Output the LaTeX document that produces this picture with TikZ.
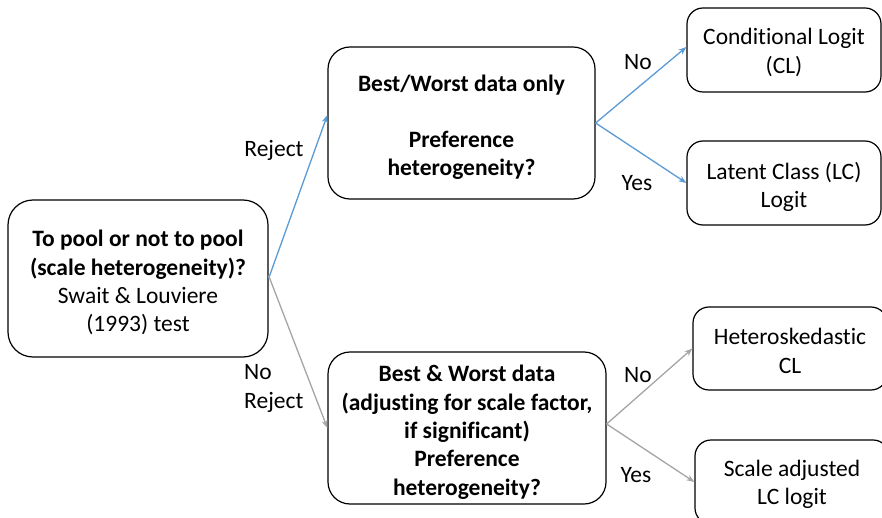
\documentclass[tikz,border=0pt]{standalone}
\usepackage{fontspec}
\setmainfont{Carlito}[Ligatures=CommonOff]
\usetikzlibrary{arrows.meta}
\definecolor{ablue}{HTML}{5B9BD5}
\definecolor{agray}{HTML}{A5A5A5}
\newcommand{\txtsize}{\fontsize{23.5}{28.3}\selectfont}
\newcommand{\dn}{\rule{0pt}{25pt}}
\newcommand{\dns}{\rule{0pt}{21pt}}
\tikzset{
  box/.style={draw=black, line width=1.2pt, rounded corners=#1, align=center, inner sep=0pt,
    font=\txtsize},
  box/.default=16pt,
  lbl/.style={font=\txtsize, inner sep=0pt},
  conn/.style={line width=1.3pt, -{Stealth[length=8pt,width=6pt]}},
  bluec/.style={conn, draw=ablue, fill=ablue},
  grayc/.style={conn, draw=agray, fill=agray},
}
\begin{document}
\begin{tikzpicture}[x=1pt,y=-1pt]
\useasboundingbox (0,0) rectangle (882,518);
\clip (0,0) rectangle (882,518);
\node[box=25pt, minimum width=260pt, minimum height=157pt] (pool) at (138,278.5)
  {\dn\textbf{To pool or not to pool}\\\textbf{(scale heterogeneity)?}\\Swait \& Louviere\\(1993) test};
\node[box=22pt, minimum width=267pt, minimum height=152pt, font=\txtsize\bfseries] (bw) at (461.5,123)
  {\dn Best/Worst data only\\~\\Preference\\heterogeneity?};
\node[box=22pt, minimum width=278pt, minimum height=152pt, font=\txtsize\bfseries] (bnw) at (467,428)
  {\dn Best \& Worst data\\(adjusting for scale factor,\\if significant)\\Preference\\heterogeneity?};
\node[box, minimum width=194pt, minimum height=84pt] (cl) at (784,50) {\dns Conditional Logit\\(CL)};
\node[box, minimum width=194pt, minimum height=84pt] (lc) at (784,183) {\dn Latent Class (LC)\\Logit};
\node[box, minimum width=194pt, minimum height=83pt] (het) at (790,348.5) {\dns Heteroskedastic\\CL};
\node[box, minimum width=194pt, minimum height=84pt] (sc) at (792,482) {\dns Scale adjusted\\LC logit};

\draw[bluec] (pool.east) -- (bw.west |- 0,115);
\draw[grayc] ([yshift=3pt]pool.east) -- (bnw.west);
\draw[bluec] (bw.east) -- (cl.west |- 0,47);
\draw[bluec] (bw.east) -- (lc.west);
\draw[grayc] ([yshift=4pt]bnw.east) -- (het.west);
\draw[grayc] ([yshift=4pt]bnw.east) -- (sc.west);

\node[lbl] (rej) at (274,150) {Reject};
\node[lbl, align=left, anchor=west] (norej) at (244,388.5) {No\\Reject};
\node[lbl] (no1) at (638,62) {No};
\node[lbl] (yes1) at (637,183) {Yes};
\node[lbl] (no2) at (638,375) {No};
\node[lbl] (yes2) at (636,475) {Yes};
\end{tikzpicture}
\end{document}
